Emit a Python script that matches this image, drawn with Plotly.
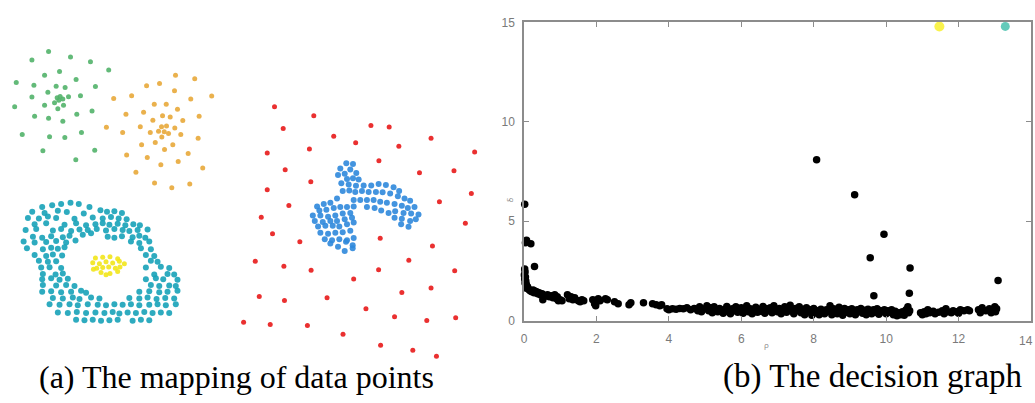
import plotly.graph_objects as go

W, H = 1035, 403

# ---------------- (a) mapping of data points (positions) ----------------
green_x = [45.7, 29, 67.7, 87.7, 106, 56.7, 41.7, 13.3, 31, 53.3, 62.3, 73.3, 92.7, 45, 29,
           54.3, 57.3, 60, 65.7, 51.7, 56, 60.7, 55, 77.7, 41.7, 11.7, 89.3, 74, 31.7, 45.7,
           60, 19.3, 46.7, 62, 78.7, 40, 92, 73]
green_y = [46, 55, 51.7, 56.7, 65.3, 66.7, 70.7, 78.3, 81, 82, 83.3, 75, 82.3, 88.3, 93.3,
           94, 92.7, 95.3, 93, 99.3, 96.7, 101.7, 105.3, 92, 101.7, 103.3, 107.7, 111, 113.3, 115.3,
           118.3, 132, 134.3, 135.3, 130, 149, 148.3, 158.3]

orange_x = [173, 192.3, 144, 157, 172, 209.3, 129, 111, 188.3, 151.7, 163.7, 175, 141, 123.3,
            160, 167.7, 196.7, 150.3, 180.3, 137.7, 159, 164, 172.3, 103.7, 156, 161.7, 166,
            147.7, 120, 159.3, 178.3, 195.7, 152.7, 139, 170.3, 162, 185.7, 124, 144.7, 175.7,
            158.3, 200.3, 133.3, 152, 169.3, 187.3]
orange_y = [70.7, 74.3, 81.7, 79.3, 86.7, 92.3, 92, 94.7, 95.3, 100.7, 100.7, 106, 109, 111,
            112.7, 114, 113.3, 117.3, 117.7, 124, 124, 123.3, 125.3, 124.7, 128.7, 129.3, 131,
            130, 130, 134.7, 132, 136, 140.3, 142.7, 142.7, 147.7, 151.7, 153.3, 156, 160,
            163.3, 166.7, 171.3, 182.3, 187.3, 183.3]

cyan_x = [39.3, 49.3, 58.3, 67.7, 76, 86.7,
          29.3, 41.7, 55, 64, 81, 97.7, 104.3, 111.7, 119.3,
          25, 36, 45, 53.3, 71.7, 90, 100, 108.3, 116, 124,
          31.7, 43.3, 61.7, 73.3, 83.3, 92.7, 100, 106.7, 115, 122.7, 130.7, 137.3,
          22.7, 33.3, 50, 58.3, 68.3, 76.7, 85, 94, 103.3, 111.7, 120, 126.7, 135, 145,
          30, 39.3, 48.3, 60, 66.7, 80, 88.3, 105, 111.7, 119.3, 130, 136.7, 142.7,
          20.7, 31.7, 43.3, 53.3, 63.3, 72.7, 128.3, 136.7, 146.7,
          24, 40, 48.3, 55, 61.7, 138.3, 148.3,
          31.7, 43.3, 50, 59.3, 143.3, 151.7,
          36, 45, 53.3, 148.3, 155,
          38.3, 46.7, 58.3, 143.3, 158.3, 166.7,
          40, 52.7, 60, 151.7, 165, 171.7,
          39.3, 48.3, 56.7, 65, 143.3, 153.3, 160.7, 175,
          40, 53.3, 63.3, 71.7, 148.3, 156.7, 166.7, 173.3,
          39.3, 48.3, 58.3, 68.3, 78.3, 83.3, 136.7, 146.7, 156.7, 165, 175,
          50, 60, 70, 76.7, 88.3, 96.7, 126.7, 136.7, 145, 154, 162.7, 171.7,
          46.7, 56.7, 66.7, 75, 85, 95, 103.3, 111.7, 120, 128.3, 136.7, 146.7, 155, 163.3, 173.3,
          55, 65, 74, 83.3, 92.7, 101.7, 110, 116.7, 125, 133.3, 141.7, 150, 158.3, 166.7,
          73.3, 81.7, 90, 98.3, 106.7, 115, 130, 138.3, 146.7]
cyan_y = [207.3, 205.3, 204, 202.7, 204, 207.3,
          212, 213.5, 211, 212.5, 214, 210.5, 212, 211.5, 213.5,
          218.5, 219, 217, 218.5, 219.5, 218, 219, 217.5, 219, 220,
          225, 224, 225.5, 224, 226, 225, 224, 225.5, 224.5, 226, 225, 226,
          231, 230, 231.5, 230, 232, 230.5, 231, 230, 231.5, 230, 231, 232, 231, 230.5,
          238, 239, 237.5, 238.5, 237, 236, 234.5, 238, 239, 237.5, 238.5, 237, 239,
          243, 244, 243.5, 242.5, 244, 242, 243, 244.5, 243,
          250, 251, 249.5, 250.5, 249, 250, 251,
          257, 258, 256.5, 257.5, 257, 258,
          263, 264, 263.5, 263, 264,
          270, 269.5, 270.5, 270, 269, 270.5,
          276.5, 277, 276, 277, 276.5, 277,
          282, 281, 282.5, 281.5, 282, 281, 282, 282.5,
          288, 288.5, 288, 289, 288, 289, 288.5, 289,
          295, 294.5, 295.5, 295, 294, 296, 295, 294.5, 295.5, 295, 294,
          301.5, 302, 301, 302.5, 301, 302, 301.5, 302, 301, 302.5, 301.5, 302,
          308, 308.5, 308, 309, 308, 308.5, 309, 308, 308.5, 308, 309, 308.5, 308, 309, 308,
          316.5, 317, 316, 317, 316.5, 317, 316, 317.5, 316.5, 317, 316, 317, 316.5, 317,
          324, 324.5, 324, 325, 324.5, 324, 325, 324, 324.5]

yellow_x = [92.7, 100, 107.3, 115, 90, 96.7, 103.3, 110, 116.7, 121.7, 94, 100, 106, 112.7,
            117.3, 90.7, 98.3, 107.3, 115, 103.3]
yellow_y = [260, 259.3, 258.7, 260.7, 265, 266, 264, 265.3, 263.3, 266, 270.7, 270, 269.3,
            270.7, 269.3, 271.7, 275, 276, 274, 277.3]

blue_x = [344.3, 351, 338.3, 348.3, 336, 342.7, 354.3, 345, 351, 356.7, 339.3, 346.7,
          340.7, 347.3, 354, 361.7, 369.3, 376.7, 384, 391.7, 397.3,
          353.3, 360, 366.7, 374, 380.7, 388.3, 396, 402.7, 408.3,
          351.7, 358.3, 365, 371.7, 378.3, 385, 392.7, 400, 406, 412.7,
          365, 372.7, 379.3, 386.7, 393.3, 401.7, 409.3, 416.7,
          392.7, 400, 408.3, 414, 399.3, 406.7,
          315, 321.7, 328.3, 335, 317.3, 324.3, 331.7, 338.3, 345, 351.7,
          310.7, 318.3, 326, 333.3, 340.7, 348.3, 312.7, 320.7, 328.3, 335, 342.7, 350,
          316, 323.3, 330.7, 337.3, 345, 351.7, 318.3, 326, 333.3, 340.7, 348.3,
          322.7, 330, 337.3, 345, 351.7, 328.3, 336, 344, 350.7, 342.7, 350.7]
blue_y = [162, 162.7, 167.3, 168.3, 174, 172.7, 172, 178.3, 177.3, 178.7, 182.7, 184,
          190.7, 190, 185.3, 185, 185, 183.3, 184.3, 186.7, 190.7,
          191.7, 190.7, 191.7, 191.7, 192, 193.3, 196, 198.3, 200.7,
          200, 200, 200, 200, 201.7, 202.7, 204, 206, 208.3, 207.3,
          207.3, 208.3, 210.7, 213.3, 211.7, 213.3, 214, 215,
          218.3, 219.3, 221.7, 220, 225, 227.7,
          206.7, 204, 202.7, 198.3, 210.7, 210, 208.3, 207.3, 207.3, 206.7,
          216, 216, 217.3, 216, 214, 213.3, 221.7, 222.7, 221.7, 221.7, 220, 218.3,
          227.3, 226.7, 226.7, 227.3, 225, 223.3, 234, 235, 234, 233.3, 231.7,
          240.7, 241.7, 240.7, 241.7, 239.3, 245, 248.3, 243.3, 246.7, 252.7, 250]

red_x = [272.3, 311.7, 281, 369, 387.3, 331.7, 429.3, 353.7, 397, 265, 307.3, 473, 377, 283,
         417.7, 452.3, 308.7, 265, 469.7, 437.7, 286.7, 259, 463.7, 270.3, 297.7, 378.3, 430.7,
         253, 407, 281.7, 309, 376.7, 453, 351.7, 429.3, 400, 257, 282.3, 325, 364, 241.3, 268,
         305.3, 392.7, 425, 454, 341, 378.7, 411, 434.7]
red_y = [103.3, 112.7, 126, 122.7, 124.3, 134, 136, 140.7, 144.3, 151.3, 147, 150.3, 159.3,
         168.7, 171.7, 169.7, 181, 189.3, 193.3, 201.7, 205.7, 217.7, 224, 235, 243.3, 239.7,
         247.7, 263.3, 262.3, 268.7, 272.7, 272.3, 273.3, 281.7, 291, 295.7, 300, 304, 301.3,
         312.7, 326.7, 329, 330, 321, 324.7, 322, 339, 350.3, 355.7, 361.7]

# ---------------- (b) decision graph: rho / delta ----------------
rho_black = [0.02, 0.04, 0.07, 0.19, 0.29,
             0.02, 0.03, 0.01, 0.04, 0.02, 0.05, 0.03, 0.06, 0.08, 0.1, 0.05, 0.12, 0.15, 0.18,
             0.22, 0.25, 0.28, 0.3, 0.35, 0.38, 0.42, 0.45, 0.5, 0.55, 0.52, 0.6, 0.65, 0.7, 0.75,
             0.8, 0.85, 0.9, 0.92, 0.95, 1.0, 1.05, 1.2, 1.25, 1.3, 1.35, 1.4, 1.5, 1.55, 1.6,
             1.65, 1.9, 1.95, 2.0, 1.98, 2.05, 2.1, 2.25, 2.3, 2.5, 2.6, 2.9, 2.95, 3.3, 3.55,
             3.65, 3.75, 3.8, 3.95, 4.0,
             4.1, 4.2, 4.3, 4.4, 4.5, 4.6, 4.7, 4.8, 4.85, 4.9, 5.0, 5.05, 5.1, 5.15, 5.2, 5.25,
             5.3, 5.35, 5.4, 5.5, 5.55, 5.6, 5.65, 5.7, 5.75, 5.8, 5.85, 5.9, 5.95, 6.0, 6.05,
             6.1, 6.15, 6.2, 6.25, 6.3, 6.35, 6.4, 6.45, 6.5, 6.55, 6.6, 6.65, 6.7, 6.75, 6.8,
             6.85, 6.9, 6.95, 7.0, 7.05, 7.1, 7.15, 7.2, 7.25, 7.3, 7.35, 7.4, 7.45, 7.5, 7.55,
             7.6, 7.65, 7.7, 7.75, 7.8, 7.85, 7.9, 7.95, 8.0, 8.05, 8.1, 8.15, 8.2, 8.25, 8.3,
             8.35, 8.4, 8.45, 8.5, 8.55, 8.6, 8.65, 8.7, 8.75, 8.8, 8.85, 8.9, 8.95, 9.0, 9.05,
             9.1, 9.15, 9.2, 9.25, 9.3, 9.35, 9.4, 9.45, 9.5, 9.55, 9.6, 9.65, 9.7, 9.75, 9.8,
             9.85, 9.9, 9.95, 10.0, 10.05, 10.1, 10.15, 10.2, 10.25, 10.3, 10.35, 10.4, 10.45,
             10.5, 10.55, 10.6, 10.62, 10.65,
             10.95, 11.0, 11.05, 11.1, 11.15, 11.2, 11.3, 11.35, 11.45, 11.55, 11.6, 11.65, 11.7,
             11.8, 11.85, 11.95, 12.0, 12.05, 12.15, 12.25, 12.3,
             12.55, 12.6, 12.65, 12.75, 12.85, 12.9, 12.95, 13.0, 13.02, 13.05,
             8.08, 9.13, 9.94, 9.56, 9.66, 10.66, 10.64, 13.09]
delta_black = [5.86, 3.92, 4.05, 3.87, 2.73,
               2.6, 2.45, 2.3, 2.2, 2.1, 2.0, 1.9, 1.85, 1.75, 1.7, 1.65, 1.6, 1.55, 1.5,
               1.45, 1.55, 1.4, 1.5, 1.45, 1.35, 1.4, 1.3, 1.35, 1.2, 1.05, 1.25, 1.3, 1.2, 1.25,
               1.15, 1.3, 1.1, 1.2, 1.0, 1.05, 1.0, 1.3, 1.1, 1.2, 1.05, 1.15, 1.0, 0.95, 1.05,
               1.0, 1.05, 0.85, 0.95, 0.75, 1.1, 1.0, 1.1, 1.05, 0.95, 0.85, 0.8, 0.9, 0.9, 0.85,
               0.8, 0.75, 0.8, 0.6, 0.55,
               0.6, 0.58, 0.62, 0.6, 0.65, 0.55, 0.62, 0.5, 0.7, 0.45, 0.6, 0.75, 0.5, 0.65, 0.4,
               0.7, 0.55, 0.45, 0.62, 0.38, 0.58, 0.72, 0.45, 0.35, 0.6, 0.5, 0.7, 0.42, 0.55,
               0.65, 0.38, 0.5, 0.75, 0.45, 0.6, 0.35, 0.55, 0.68, 0.42, 0.58, 0.48, 0.72, 0.38,
               0.6, 0.5, 0.65, 0.4, 0.75, 0.55, 0.45, 0.62, 0.35, 0.55, 0.7, 0.42, 0.6, 0.78,
               0.48, 0.35, 0.62, 0.5, 0.7, 0.4, 0.58, 0.3, 0.65, 0.45, 0.55, 0.28, 0.62, 0.4,
               0.5, 0.3, 0.58, 0.42, 0.35, 0.55, 0.48, 0.75, 0.3, 0.6, 0.45, 0.35, 0.68, 0.5,
               0.28, 0.62, 0.42, 0.55, 0.35, 0.6, 0.48, 0.3, 0.55, 0.45, 0.62, 0.38, 0.52, 0.3,
               0.58, 0.45, 0.35, 0.55, 0.42, 0.6, 0.32, 0.5, 0.45, 0.55, 0.35, 0.5, 0.42, 0.55,
               0.3, 0.48, 0.25, 0.4, 0.3, 0.45, 0.28, 0.55, 0.7, 0.4, 0.5,
               0.4, 0.3, 0.45, 0.35, 0.55, 0.4, 0.48, 0.35, 0.42, 0.5, 0.35, 0.6, 0.45, 0.4,
               0.5, 0.45, 0.38, 0.55, 0.5, 0.55, 0.5,
               0.55, 0.4, 0.65, 0.5, 0.6, 0.4, 0.55, 0.7, 0.45, 0.6,
               8.09, 6.34, 4.35, 3.16, 1.25, 2.65, 1.38, 2.02]

rho_centers = [11.47, 13.29]
delta_centers = [14.8, 14.8]
center_colors = ["#f7ec00", "#22b39c"]

x_ticks = [0, 2, 4, 6, 8, 10, 12, 14]
y_ticks = [0, 5, 10, 15]

fig = go.Figure()

def add_left(xs, ys, color, size):
    fig.add_trace(go.Scatter(x=xs, y=ys, mode="markers", xaxis="x", yaxis="y",
                             marker=dict(color=color, size=size, opacity=0.9, line=dict(width=0)),
                             showlegend=False, hoverinfo="skip"))

add_left(green_x, green_y, "#52b36a", 5)
add_left(orange_x, orange_y, "#e8a83a", 5)
add_left(cyan_x, cyan_y, "#17a2b8", 6)
add_left(yellow_x, yellow_y, "#f2e51a", 5)
add_left(blue_x, blue_y, "#2f88dc", 6)
add_left(red_x, red_y, "#e81a1a", 5)

fig.add_trace(go.Scatter(x=rho_black, y=delta_black, mode="markers", xaxis="x2", yaxis="y2",
                         marker=dict(color="black", size=7.5, line=dict(width=0)),
                         showlegend=False, cliponaxis=False, hoverinfo="skip"))
fig.add_trace(go.Scatter(x=rho_centers, y=delta_centers, mode="markers", xaxis="x2", yaxis="y2",
                         marker=dict(color=center_colors, size=[10, 9], line=dict(width=0)),
                         showlegend=False, cliponaxis=False, hoverinfo="skip"))

axcol = "#8c8c8c"
tickfont = dict(family="Liberation Sans, Arial", size=12, color="#7a7a7a")

fig.update_layout(
    width=W, height=H, margin=dict(l=0, r=0, t=0, b=0),
    paper_bgcolor="white", plot_bgcolor="white",
    xaxis=dict(domain=[0, 490 / W], range=[0, 490], visible=False),
    yaxis=dict(domain=[0, 1], range=[H, 0], visible=False),
    xaxis2=dict(domain=[522.5 / W, 1031 / W], range=[0, 14], anchor="y2",
                tickvals=x_ticks, ticks="inside", ticklen=5, tickcolor=axcol,
                showline=True, linecolor=axcol, linewidth=1.5, mirror="ticks",
                showgrid=False, zeroline=False, tickfont=tickfont, ticklabelstandoff=6),
    yaxis2=dict(domain=[(H - 325) / H, (H - 16) / H], range=[0, 15], anchor="x2",
                tickvals=y_ticks, ticks="inside", ticklen=5, tickcolor=axcol,
                showline=True, linecolor=axcol, linewidth=1.5, mirror="ticks",
                showgrid=False, zeroline=False, tickfont=tickfont, ticklabelstandoff=5),
    annotations=[
        dict(text="14", x=1035 / W, y=(H - 346) / H, xref="paper", yref="paper",
             xanchor="right", yanchor="middle", showarrow=False, font=tickfont),
        dict(text="δ", x=508 / W, y=(H - 200) / H, xref="paper", yref="paper",
             showarrow=False, textangle=-90, font=dict(size=8, color="#888888")),
        dict(text="ρ", x=770 / W, y=(H - 357) / H, xref="paper", yref="paper",
             showarrow=False, font=dict(size=8, color="#888888")),
        dict(text="(a) The mapping of data points", x=34 / W, y=(H - 383) / H,
             xref="paper", yref="paper", xanchor="left", yanchor="middle", showarrow=False,
             font=dict(family="Liberation Serif, Times New Roman", size=32, color="black")),
        dict(text="(b) The decision graph", x=720 / W, y=(H - 383) / H,
             xref="paper", yref="paper", xanchor="left", yanchor="middle", showarrow=False,
             font=dict(family="Liberation Serif, Times New Roman", size=33, color="black")),
    ],
)

fig.write_html("out.html")
